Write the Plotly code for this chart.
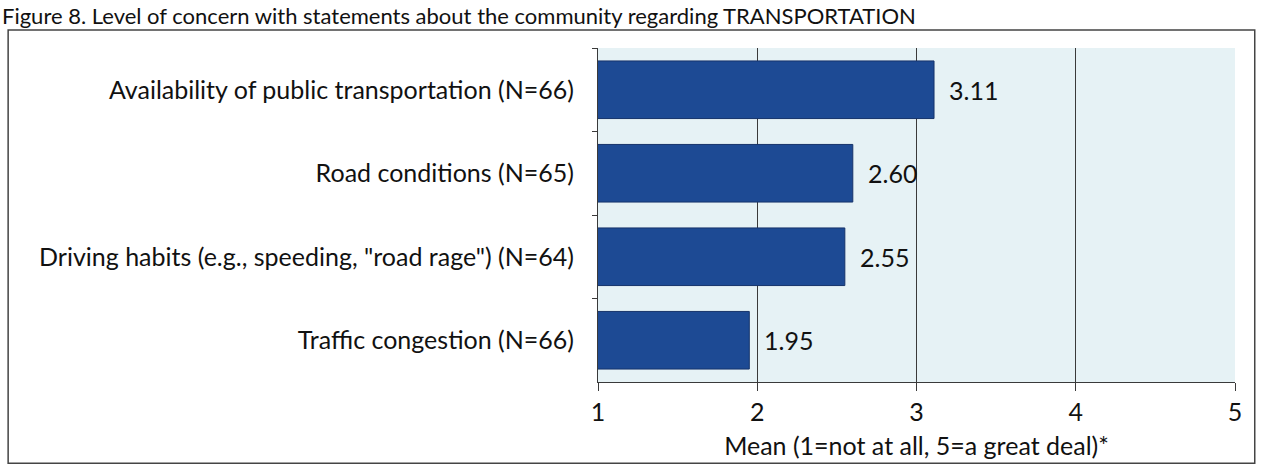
import plotly.graph_objects as go

# Survey items and their mean level of concern (1 = not at all, 5 = a great deal)
categories = [
    "Availability of public transportation (N=66)",
    "Road conditions (N=65)",
    'Driving habits (e.g., speeding, "road rage") (N=64)',
    "Traffic congestion (N=66)",
]
means = [3.11, 2.60, 2.55, 1.95]
x_ticks = [1, 2, 3, 4, 5]

FONT = "Lato"
SIZE = 25
BAR = "#1d4a94"
PLOT_BG = "#e6f2f5"
LINE = "#3a3a3a"

fig = go.Figure()
fig.add_trace(go.Bar(
    x=means,
    y=categories,
    orientation="h",
    width=0.69,
    marker=dict(color=BAR, line=dict(color="#16336a", width=1)),
    hoverinfo="skip",
))

# Value labels just to the right of each bar
for cat, v in zip(categories, means):
    fig.add_annotation(
        x=v, y=cat, xref="x", yref="y",
        text=f"{v:.2f}", showarrow=False,
        xanchor="left", xshift=13,
        font=dict(family=FONT, size=SIZE, color="#111"),
    )

# Frame around the whole chart
fig.add_shape(
    type="rect", xref="paper", yref="paper",
    x0=-0.926, x1=1.031, y0=-0.243, y1=1.054,
    line=dict(color="#444", width=1.5), layer="below",
)

# Figure caption along the top edge
fig.add_annotation(
    xref="paper", yref="paper", x=-0.939, y=1.097,
    xanchor="left", yanchor="middle",
    text="Figure 8. Level of concern with statements about the community regarding TRANSPORTATION",
    showarrow=False,
    font=dict(family=FONT, size=22, color="#111"),
)

fig.update_layout(
    width=1269, height=470,
    margin=dict(l=598, r=34, t=48, b=88),
    paper_bgcolor="white",
    plot_bgcolor=PLOT_BG,
    showlegend=False,
    font=dict(family=FONT, size=SIZE, color="#111"),
    xaxis=dict(
        range=[1, 5], tickvals=x_ticks, ticktext=[str(t) for t in x_ticks],
        showgrid=True, gridcolor=LINE, gridwidth=1,
        showline=True, linecolor=LINE, linewidth=1,
        ticks="outside", ticklen=8, tickcolor=LINE,
        tickfont=dict(family=FONT, size=SIZE),
        title=dict(text="Mean (1=not at all, 5=a great deal)*",
                   font=dict(family=FONT, size=SIZE), standoff=12),
        zeroline=False, fixedrange=True,
    ),
    yaxis=dict(
        categoryorder="array", categoryarray=categories,
        autorange="reversed",
        showline=True, linecolor=LINE, linewidth=1,
        ticks="outside", ticklen=5, tickcolor=LINE,
        tickson="boundaries",
        tickfont=dict(family=FONT, size=SIZE),
        ticklabelstandoff=18,
        showgrid=False, fixedrange=True,
    ),
)

fig.write_html("out.html")
